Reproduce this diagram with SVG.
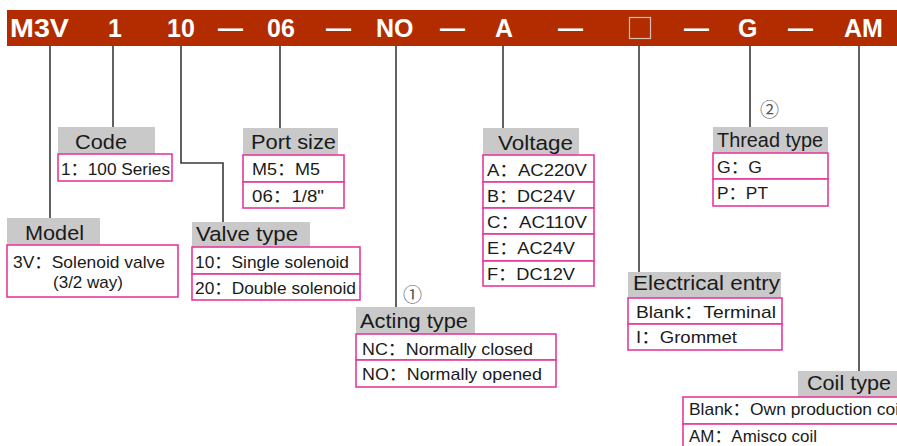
<svg xmlns="http://www.w3.org/2000/svg" width="897" height="446" viewBox="0 0 897 446">
<style>
.bar{fill:#b22c00}
.bt{font-family:"Liberation Sans",Arial,sans-serif;font-weight:bold;font-size:25px;fill:#ffffff}
.hd{fill:#c9c9c9}
.ht{font-family:"Liberation Sans",Arial,sans-serif;font-size:20.5px;fill:#1a1a1a}
.rw{fill:#ffffff;stroke:#e63a9c;stroke-width:1.6}
.rt{font-family:"Liberation Sans",Arial,"Noto Sans CJK SC",sans-serif;font-size:17px;fill:#1a1a1a}
.cn{fill:none;stroke:#3a3a3a;stroke-width:1.6}
.cir{font-family:"Noto Sans CJK SC","DejaVu Sans",sans-serif;font-size:19px;fill:#555555}
</style>
<rect x="0" y="0" width="897" height="446" fill="#ffffff"/>
<g id="bar">
<rect class="bar" x="7" y="10" width="890" height="36"/>
<text class="bt" x="10" y="37" textLength="59" lengthAdjust="spacingAndGlyphs">M3V</text>
<text class="bt" x="108" y="37">1</text>
<text class="bt" x="167" y="37">10</text>
<text class="bt" x="218" y="37">—</text>
<text class="bt" x="267" y="37">06</text>
<text class="bt" x="326" y="37">—</text>
<text class="bt" x="376" y="37">NO</text>
<text class="bt" x="440" y="37">—</text>
<text class="bt" x="495" y="37">A</text>
<text class="bt" x="558" y="37">—</text>
<rect x="629.5" y="17.5" width="21" height="21" fill="none" stroke="#dcbdb4" stroke-width="1.2"/>
<text class="bt" x="684" y="37">—</text>
<text class="bt" x="738" y="37">G</text>
<text class="bt" x="788" y="37">—</text>
<text class="bt" x="844" y="37">AM</text>
</g>
<g id="connectors">
<path class="cn" d="M50 46 V218"/>
<path class="cn" d="M113 46 V127"/>
<path class="cn" d="M181 46 V163 H223 V222"/>
<path class="cn" d="M280 46 V128"/>
<path class="cn" d="M396 46 V307"/>
<path class="cn" d="M503 46 V128"/>
<path class="cn" d="M639 46 V272"/>
<path class="cn" d="M750 46 V127"/>
<path class="cn" d="M859 46 V371"/>
</g>
<g id="code">
<rect class="hd" x="58" y="127" width="97" height="27"/>
<text class="ht" x="75" y="149" textLength="52" lengthAdjust="spacingAndGlyphs">Code</text>
<rect class="rw" x="58" y="154" width="114" height="27"/>
<text class="rt" x="61" y="175" textLength="109" lengthAdjust="spacingAndGlyphs">1：100 Series</text>
</g>
<g id="model">
<rect class="hd" x="7" y="218" width="93" height="27"/>
<text class="ht" x="25" y="240" textLength="59" lengthAdjust="spacingAndGlyphs">Model</text>
<rect class="rw" x="7" y="245" width="171" height="52"/>
<text class="rt" x="13" y="268" textLength="152" lengthAdjust="spacingAndGlyphs">3V：Solenoid valve</text>
<text class="rt" x="53" y="288" textLength="70" lengthAdjust="spacingAndGlyphs">(3/2 way)</text>
</g>
<g id="port-size">
<rect class="hd" x="243" y="128" width="95" height="27"/>
<text class="ht" x="251" y="149" textLength="85" lengthAdjust="spacingAndGlyphs">Port size</text>
<rect class="rw" x="243" y="155" width="101" height="27"/>
<rect class="rw" x="243" y="182" width="101" height="26"/>
<text class="rt" x="252" y="175" textLength="68" lengthAdjust="spacingAndGlyphs">M5：M5</text>
<text class="rt" x="252" y="202" textLength="72" lengthAdjust="spacingAndGlyphs">06：1/8"</text>
</g>
<g id="valve-type">
<rect class="hd" x="192" y="222" width="118" height="25"/>
<text class="ht" x="196" y="241" textLength="102" lengthAdjust="spacingAndGlyphs">Valve type</text>
<rect class="rw" x="192" y="247" width="168" height="27"/>
<rect class="rw" x="192" y="274" width="168" height="26"/>
<text class="rt" x="195" y="268" textLength="154" lengthAdjust="spacingAndGlyphs">10：Single solenoid</text>
<text class="rt" x="195" y="294" textLength="161" lengthAdjust="spacingAndGlyphs">20：Double solenoid</text>
</g>
<g id="acting-type">
<text class="cir" x="403" y="302">①</text>
<rect class="hd" x="356" y="307" width="119" height="27"/>
<text class="ht" x="360" y="328" textLength="108" lengthAdjust="spacingAndGlyphs">Acting type</text>
<rect class="rw" x="356" y="334" width="200" height="26"/>
<rect class="rw" x="356" y="360" width="200" height="27"/>
<text class="rt" x="362" y="355" textLength="171" lengthAdjust="spacingAndGlyphs">NC：Normally closed</text>
<text class="rt" x="362" y="380" textLength="180" lengthAdjust="spacingAndGlyphs">NO：Normally opened</text>
</g>
<g id="voltage">
<rect class="hd" x="483" y="128" width="96" height="27"/>
<text class="ht" x="498" y="150" textLength="75" lengthAdjust="spacingAndGlyphs">Voltage</text>
<rect class="rw" x="483" y="155" width="111" height="27"/>
<rect class="rw" x="483" y="182" width="111" height="26"/>
<rect class="rw" x="483" y="208" width="111" height="26"/>
<rect class="rw" x="483" y="234" width="111" height="27"/>
<rect class="rw" x="483" y="261" width="111" height="25"/>
<text class="rt" x="487" y="176" textLength="100" lengthAdjust="spacingAndGlyphs">A：AC220V</text>
<text class="rt" x="487" y="202" textLength="88" lengthAdjust="spacingAndGlyphs">B：DC24V</text>
<text class="rt" x="487" y="228" textLength="100" lengthAdjust="spacingAndGlyphs">C：AC110V</text>
<text class="rt" x="487" y="254" textLength="88" lengthAdjust="spacingAndGlyphs">E：AC24V</text>
<text class="rt" x="487" y="280" textLength="88" lengthAdjust="spacingAndGlyphs">F：DC12V</text>
</g>
<g id="electrical-entry">
<rect class="hd" x="628" y="272" width="153" height="26"/>
<text class="ht" x="633" y="290" textLength="147" lengthAdjust="spacingAndGlyphs">Electrical entry</text>
<rect class="rw" x="628" y="298" width="154" height="26"/>
<rect class="rw" x="628" y="324" width="154" height="26"/>
<text class="rt" x="636" y="318" textLength="140" lengthAdjust="spacingAndGlyphs">Blank：Terminal</text>
<text class="rt" x="636" y="343" textLength="101" lengthAdjust="spacingAndGlyphs">I：Grommet</text>
</g>
<g id="thread-type">
<text class="cir" x="760" y="117">②</text>
<rect class="hd" x="713" y="127" width="115" height="26"/>
<text class="ht" x="717" y="147" textLength="106" lengthAdjust="spacingAndGlyphs">Thread type</text>
<rect class="rw" x="713" y="153" width="115" height="26"/>
<rect class="rw" x="713" y="179" width="115" height="27"/>
<text class="rt" x="717" y="173" textLength="45" lengthAdjust="spacingAndGlyphs">G：G</text>
<text class="rt" x="717" y="199" textLength="51" lengthAdjust="spacingAndGlyphs">P：PT</text>
</g>
<g id="coil-type">
<rect class="hd" x="798" y="371" width="100" height="26"/>
<text class="ht" x="807" y="390" textLength="84" lengthAdjust="spacingAndGlyphs">Coil type</text>
<rect class="rw" x="683" y="397" width="220" height="27"/>
<rect class="rw" x="683" y="424" width="220" height="28"/>
<text class="rt" x="689" y="415" textLength="214" lengthAdjust="spacingAndGlyphs">Blank：Own production coil</text>
<text class="rt" x="689" y="442" textLength="128" lengthAdjust="spacingAndGlyphs">AM：Amisco coil</text>
</g>
</svg>
